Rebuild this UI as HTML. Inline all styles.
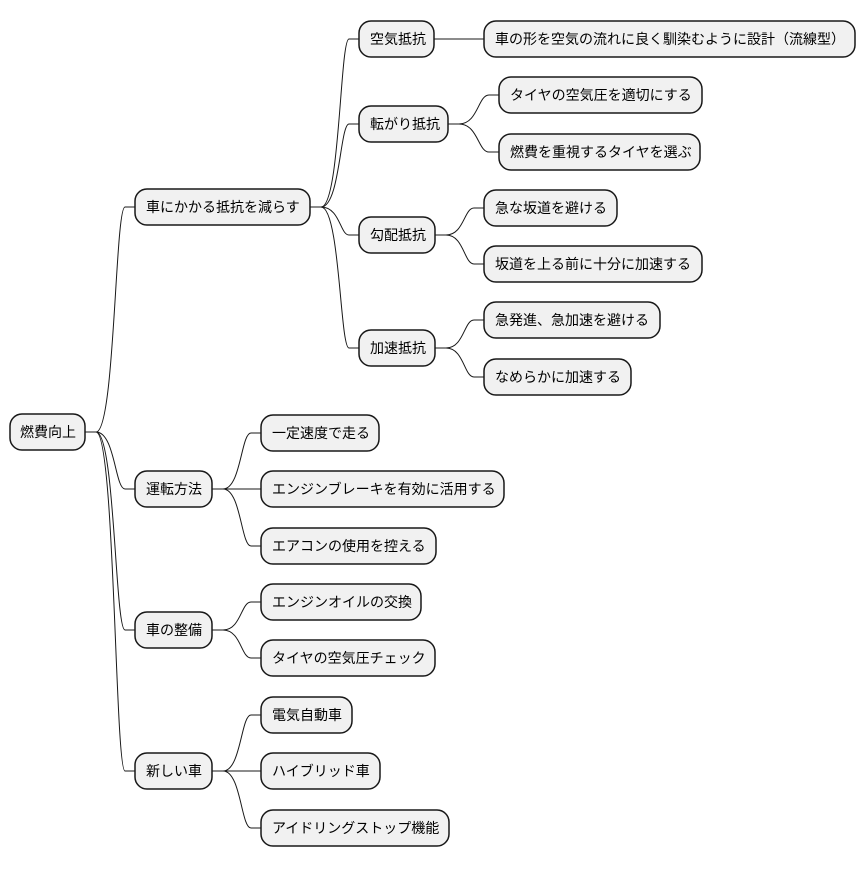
<!DOCTYPE html>
<html><head><meta charset="utf-8"><style>
html,body{margin:0;padding:0;background:#fff;}
svg text{font-family:"Liberation Sans","Noto Sans CJK JP",sans-serif;font-size:14px;fill:#000;}
</style></head><body>
<svg width="866" height="865" xmlns="http://www.w3.org/2000/svg">
<g fill="none" stroke="#181818" stroke-width="1">
<path d="M85,432 L96,432 C115,432 115,207 125,207 L135,207"/>
<path d="M85,432 L96,432 C115,432 115,489 125,489 L135,489"/>
<path d="M85,432 L96,432 C115,432 115,630 125,630 L135,630"/>
<path d="M85,432 L96,432 C115,432 115,771 125,771 L135,771"/>
<path d="M310,207 L321,207 C340,207 340,39 349,39 L359,39"/>
<path d="M310,207 L321,207 C340,207 340,124 349,124 L359,124"/>
<path d="M310,207 L321,207 C340,207 340,235 349,235 L359,235"/>
<path d="M310,207 L321,207 C340,207 340,348 349,348 L359,348"/>
<path d="M434,39 L484,39"/>
<path d="M448,124 L459,124 C478,124 478,95 489,95 L499,95"/>
<path d="M448,124 L459,124 C478,124 478,152 489,152 L499,152"/>
<path d="M435,235 L446,235 C464,235 464,208 474,208 L484,208"/>
<path d="M435,235 L446,235 C464,235 464,264 474,264 L484,264"/>
<path d="M435,348 L446,348 C464,348 464,320 474,320 L484,320"/>
<path d="M435,348 L446,348 C464,348 464,377 474,377 L484,377"/>
<path d="M212,489 L223,489 C241,489 241,433 251,433 L261,433"/>
<path d="M212,489 L261,489"/>
<path d="M212,489 L223,489 C241,489 241,546 251,546 L261,546"/>
<path d="M212,630 L223,630 C241,630 241,602 251,602 L261,602"/>
<path d="M212,630 L223,630 C241,630 241,658 251,658 L261,658"/>
<path d="M212,771 L223,771 C241,771 241,715 251,715 L261,715"/>
<path d="M212,771 L261,771"/>
<path d="M212,771 L223,771 C241,771 241,828 251,828 L261,828"/>
</g>
<g fill="#f1f1f1" stroke="#181818" stroke-width="1.5">
<rect x="10" y="414" width="75" height="36" rx="12"/>
<rect x="135" y="189" width="175" height="36" rx="12"/>
<rect x="359" y="21" width="75" height="36" rx="12"/>
<rect x="484" y="21" width="371" height="36" rx="12"/>
<rect x="359" y="106" width="89" height="36" rx="12"/>
<rect x="499" y="77" width="203" height="36" rx="12"/>
<rect x="499" y="134" width="201" height="36" rx="12"/>
<rect x="359" y="217" width="76" height="36" rx="12"/>
<rect x="484" y="190" width="133" height="36" rx="12"/>
<rect x="484" y="246" width="218" height="36" rx="12"/>
<rect x="359" y="330" width="76" height="36" rx="12"/>
<rect x="484" y="302" width="176" height="36" rx="12"/>
<rect x="484" y="359" width="147" height="36" rx="12"/>
<rect x="135" y="471" width="77" height="36" rx="12"/>
<rect x="261" y="415" width="118" height="36" rx="12"/>
<rect x="261" y="471" width="243" height="36" rx="12"/>
<rect x="261" y="528" width="175" height="36" rx="12"/>
<rect x="135" y="612" width="77" height="36" rx="12"/>
<rect x="261" y="584" width="160" height="36" rx="12"/>
<rect x="261" y="640" width="174" height="36" rx="12"/>
<rect x="135" y="753" width="77" height="36" rx="12"/>
<rect x="261" y="697" width="91" height="36" rx="12"/>
<rect x="261" y="753" width="119" height="36" rx="12"/>
<rect x="261" y="810" width="188" height="36" rx="12"/>
</g>
<g>
<text x="20" y="437">燃費向上</text>
<text x="146" y="212">車にかかる抵抗を減らす</text>
<text x="370" y="44">空気抵抗</text>
<text x="495" y="44">車の形を空気の流れに良く馴染むように設計（流線型）</text>
<text x="370" y="129">転がり抵抗</text>
<text x="510" y="100">タイヤの空気圧を適切にする</text>
<text x="510" y="157">燃費を重視するタイヤを選ぶ</text>
<text x="370" y="240">勾配抵抗</text>
<text x="495" y="213">急な坂道を避ける</text>
<text x="495" y="269">坂道を上る前に十分に加速する</text>
<text x="370" y="353">加速抵抗</text>
<text x="495" y="325">急発進、急加速を避ける</text>
<text x="495" y="382">なめらかに加速する</text>
<text x="146" y="494">運転方法</text>
<text x="272" y="438">一定速度で走る</text>
<text x="272" y="494">エンジンブレーキを有効に活用する</text>
<text x="272" y="551">エアコンの使用を控える</text>
<text x="146" y="635">車の整備</text>
<text x="272" y="607">エンジンオイルの交換</text>
<text x="272" y="663">タイヤの空気圧チェック</text>
<text x="146" y="776">新しい車</text>
<text x="272" y="720">電気自動車</text>
<text x="272" y="776">ハイブリッド車</text>
<text x="272" y="833">アイドリングストップ機能</text>
</g>
</svg>
</body></html>
